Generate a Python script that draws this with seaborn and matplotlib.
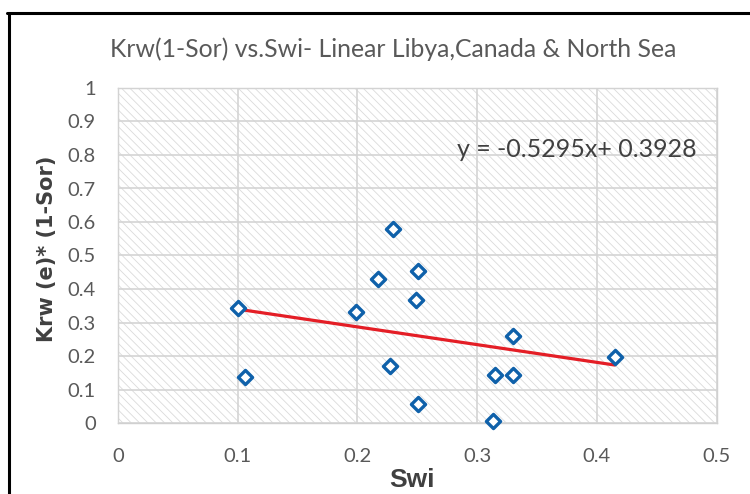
import matplotlib
matplotlib.use("Agg")
import matplotlib.pyplot as plt
from matplotlib.patches import Rectangle
from matplotlib.lines import Line2D
import numpy as np
import pandas as pd
import seaborn as sns

# Measured samples
swi = [0.100, 0.106, 0.199, 0.217, 0.230, 0.227, 0.251, 0.249, 0.251,
       0.330, 0.315, 0.330, 0.313, 0.415]
krw = [0.344, 0.136, 0.330, 0.429, 0.579, 0.170, 0.455, 0.367, 0.056,
       0.260, 0.143, 0.143, 0.006, 0.197]

# Linear trend (slope, intercept)
slope = -0.5295
intercept = 0.3928

x_ticks = [0, 0.1, 0.2, 0.3, 0.4, 0.5]
x_tick_labels = ["0", "0.1", "0.2", "0.3", "0.4", "0.5"]
y_ticks = [0, 0.1, 0.2, 0.3, 0.4, 0.5, 0.6, 0.7, 0.8, 0.9, 1]
y_tick_labels = ["0", "0.1", "0.2", "0.3", "0.4", "0.5", "0.6", "0.7", "0.8", "0.9", "1"]

title = "Krw(1-Sor) vs.Swi- Linear Libya,Canada & North Sea"
x_label = "Swi"
y_label = "Krw (e)* (1-Sor)"

sns.set_style("white")
plt.rcParams["font.family"] = ["Lato", "Liberation Sans", "DejaVu Sans"]
plt.rcParams["hatch.linewidth"] = 0.6

W, H = 750, 494
fig = plt.figure(figsize=(W / 100, H / 100), dpi=100)
fig.patch.set_facecolor("white")

ax_l, ax_r, ax_t, ax_b = 118, 716.5, 88, 423
ax = fig.add_axes([ax_l / W, (H - ax_b) / H, (ax_r - ax_l) / W, (ax_b - ax_t) / H])
ax.set_facecolor("white")

# hatched plot area
ax.add_patch(Rectangle((0, 0), 1, 1, transform=ax.transAxes, facecolor="white",
                       edgecolor="#dadada", hatch="\\\\\\\\", linewidth=0, zorder=0))

ax.set_xlim(0, 0.5)
ax.set_ylim(0, 1)
ax.set_xticks(x_ticks)
ax.set_xticklabels(x_tick_labels)
ax.set_yticks(y_ticks)
ax.set_yticklabels(y_tick_labels)
ax.grid(True, color="#d4d4d4", linewidth=1.2, zorder=1)
ax.set_axisbelow(False)
for line in ax.get_xgridlines() + ax.get_ygridlines():
    line.set_zorder(1)
for sp in ax.spines.values():
    sp.set_color("#d0d0d0")
    sp.set_linewidth(1.0)

ax.tick_params(axis="both", length=0, labelsize=14.5, labelcolor="#595959")
ax.tick_params(axis="x", pad=18)
ax.tick_params(axis="y", pad=16)

df = pd.DataFrame({"Swi": swi, "Krw": krw})

# trend line over the data range
xl = np.array([min(swi), max(swi)])
trend = pd.DataFrame({"Swi": xl, "Krw": slope * xl + intercept})
sns.lineplot(data=trend, x="Swi", y="Krw", color="#e41e26", linewidth=2.3,
             ax=ax, zorder=3)

sns.scatterplot(data=df, x="Swi", y="Krw", marker="D", s=52, facecolor="white",
                edgecolor="#0f61aa", linewidth=2.4, ax=ax, zorder=4, clip_on=False)

ax.text(0.2834, 0.794, f"y = {slope}x+ {intercept}", ha="left", va="baseline",
        fontsize=18, color="#404040", zorder=5)

ax.set_xlabel(x_label, fontsize=19, fontweight="bold", color="#404040",
              family=["Liberation Sans", "DejaVu Sans"])
ax.xaxis.set_label_coords(0.492, -0.134)
ax.set_ylabel(y_label, fontsize=15, fontweight="bold", color="#404040",
              family=["DejaVu Sans"], va="center")
ax.yaxis.set_label_coords(-0.118, 0.52)

fig.text(393 / W, 1 - 57 / H, title, ha="center", va="baseline", fontsize=17.8,
         color="#595959")

# outer frame lines (top and left)
fig.add_artist(Line2D([7 / W, 1.0], [1 - 13.5 / H, 1 - 13.5 / H],
                      transform=fig.transFigure, color="black", linewidth=2.2))
fig.add_artist(Line2D([8.5 / W, 8.5 / W], [0, 1 - 13.5 / H],
                      transform=fig.transFigure, color="black", linewidth=2.2))

fig.savefig("out.png", dpi=100, facecolor="white")
